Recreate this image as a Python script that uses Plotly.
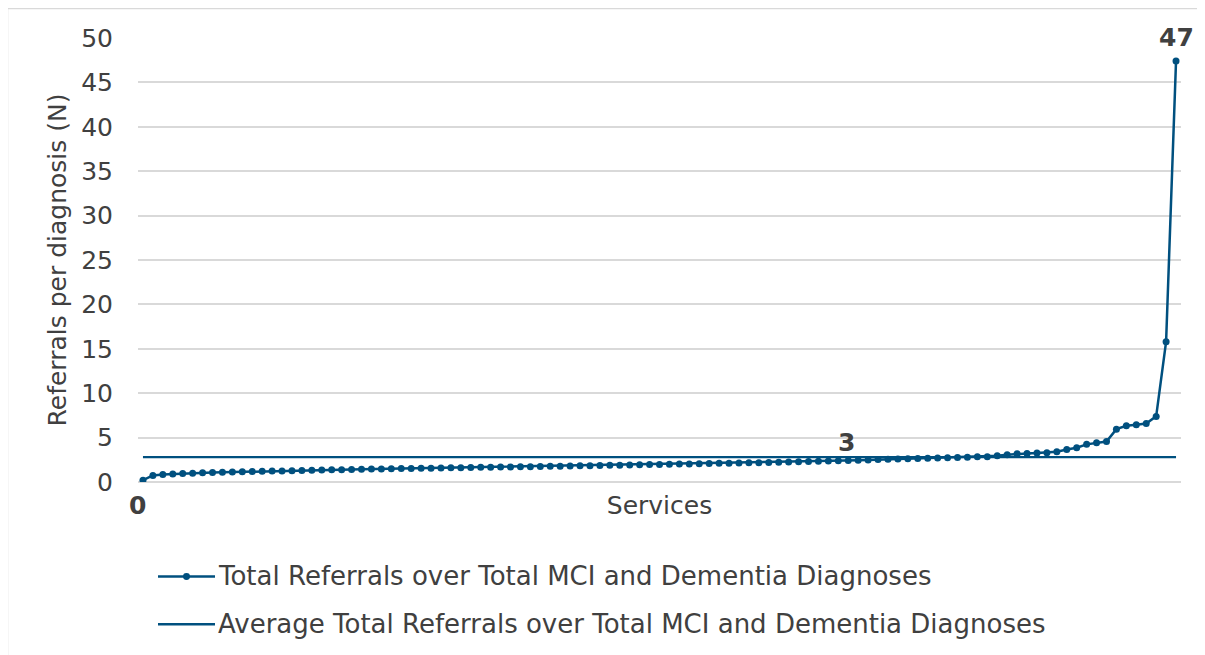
import plotly.graph_objects as go

############################### DATA ###############################

ratio = [
    0.20, 0.74, 0.84, 0.90, 0.95, 0.99, 1.03, 1.06, 1.09, 1.12,
    1.15, 1.18, 1.20, 1.23, 1.25, 1.28, 1.30, 1.32, 1.35, 1.37,
    1.39, 1.41, 1.43, 1.45, 1.47, 1.49, 1.51, 1.52, 1.54, 1.56,
    1.58, 1.60, 1.61, 1.63, 1.65, 1.67, 1.68, 1.70, 1.72, 1.73,
    1.75, 1.77, 1.78, 1.80, 1.82, 1.84, 1.86, 1.88, 1.90, 1.92,
    1.94, 1.96, 1.98, 2.00, 2.02, 2.04, 2.06, 2.08, 2.10, 2.12,
    2.14, 2.16, 2.18, 2.20, 2.23, 2.26, 2.29, 2.31, 2.34, 2.37,
    2.40, 2.43, 2.46, 2.49, 2.52, 2.55, 2.58, 2.61, 2.64, 2.67,
    2.70, 2.74, 2.77, 2.80, 2.84, 2.84, 2.95, 3.07, 3.18, 3.22,
    3.26, 3.30, 3.41, 3.67, 3.86, 4.24, 4.43, 4.55, 5.95, 6.33,
    6.44, 6.59, 7.39, 15.8, 47.4,
]
services = list(range(1, len(ratio) + 1))
average = 2.8
average_line = [average] * len(services)

y_ticks = [0, 5, 10, 15, 20, 25, 30, 35, 40, 45, 50]

legend_names = [
    "Total Referrals over Total MCI and Dementia Diagnoses",
    "Average Total Referrals over Total MCI and Dementia Diagnoses",
]

BLUE = "#00507f"
GREY = "#404040"
GRID = "#d9d9d9"
FONT = "DejaVu Sans"
FS = 25

# page offset (body margin) and figure margins
W, H = 1205, 655
ML, MR, MT, MB = 130, 32, 30, 180.5
PW = W - ML - MR
PH = H - MT - MB


def px_x(x):
    """page pixel x -> paper x"""
    return (x - 8 - ML) / PW


def px_y(y):
    """page pixel y -> paper y"""
    return (H - MB - (y - 8)) / PH


############################### FIGURE ###############################

fig = go.Figure()

fig.add_trace(
    go.Scatter(
        x=services,
        y=ratio,
        mode="lines+markers",
        line=dict(color=BLUE, width=2.5),
        marker=dict(color=BLUE, size=7),
        name=legend_names[0],
        hoverinfo="y",
    )
)

fig.add_trace(
    go.Scatter(
        x=services,
        y=average_line,
        mode="lines",
        line=dict(color=BLUE, width=2.25),
        name=legend_names[1],
        hoverinfo="y",
    )
)

# data labels: first, average, last
label_font = dict(size=FS, color=GREY, family=FONT)
fig.add_annotation(
    x=services[0], y=ratio[0], text="<b>0</b>", showarrow=False,
    yshift=-25, xshift=-5, font=label_font,
)
fig.add_annotation(
    x=services[71], y=average, text="<b>3</b>", showarrow=False,
    yshift=15, xshift=-2, font=label_font,
)
fig.add_annotation(
    x=services[-1], y=ratio[-1], text="<b>47</b>", showarrow=False,
    yshift=24, font=label_font,
)

# chart border (top and left only visible)
fig.add_shape(type="line", xref="paper", yref="paper",
              x0=px_x(7.5), x1=px_x(1212), y0=px_y(8.5), y1=px_y(8.5),
              line=dict(color=GRID, width=1.5))
fig.add_shape(type="line", xref="paper", yref="paper",
              x0=px_x(7.5), x1=px_x(7.5), y0=px_y(8.5), y1=px_y(662),
              line=dict(color=GRID, width=1.5))

# legend drawn by hand so the symbol length matches
for i, (name, ly) in enumerate(zip(legend_names, [577, 625])):
    fig.add_shape(type="line", xref="paper", yref="paper",
                  x0=px_x(158), x1=px_x(215), y0=px_y(ly), y1=px_y(ly),
                  line=dict(color=BLUE, width=2.5))
    if i == 0:
        fig.add_shape(type="circle", xref="paper", yref="paper",
                      x0=px_x(183), x1=px_x(190), y0=px_y(ly - 3.5), y1=px_y(ly + 3.5),
                      line=dict(color=BLUE, width=0), fillcolor=BLUE)
    fig.add_annotation(
        xref="paper", yref="paper", x=px_x(216), y=px_y(ly),
        xanchor="left", yanchor="middle", text=name, showarrow=False,
        font=dict(size=26, color=GREY, family=FONT),
    )

fig.update_layout(
    width=W,
    height=H,
    margin=dict(l=ML, r=MR, t=MT, b=MB),
    plot_bgcolor="white",
    paper_bgcolor="white",
    font=dict(family=FONT, size=FS, color=GREY),
    showlegend=False,
)

fig.update_xaxes(
    range=[0.5, len(services) + 0.5],
    showticklabels=False,
    showgrid=False,
    zeroline=False,
    showline=False,
    ticks="",
    title=dict(text="Services", font=dict(size=FS, color=GREY), standoff=14),
    fixedrange=True,
)

fig.update_yaxes(
    range=[0, 50],
    tickvals=y_ticks,
    showgrid=True,
    gridcolor=GRID,
    gridwidth=1.5,
    zeroline=True,
    zerolinecolor=GRID,
    zerolinewidth=1.5,
    showline=False,
    ticks="",
    ticklabelstandoff=24,
    tickfont=dict(size=FS, color=GREY),
    title=dict(text="Referrals per diagnosis (N)", font=dict(size=FS, color=GREY), standoff=7),
    fixedrange=True,
)

fig.write_html("out.html")
